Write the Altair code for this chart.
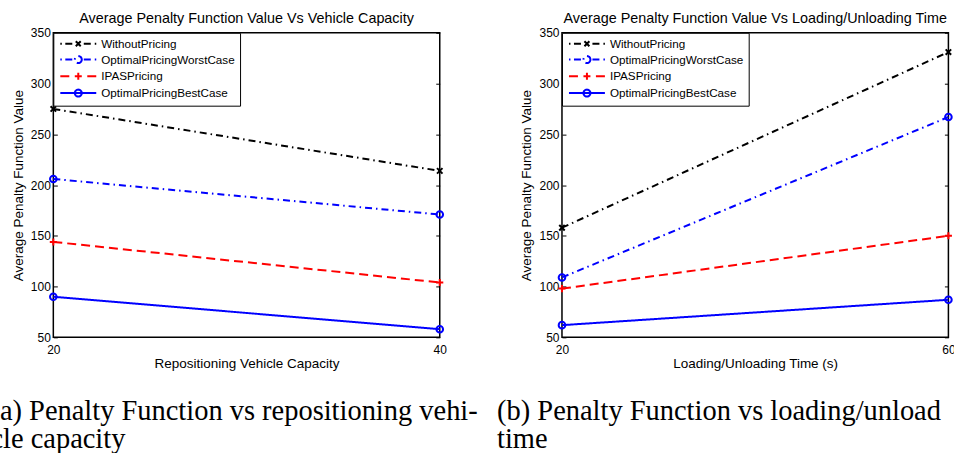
import math

import altair as alt
import pandas as pd

# ---------------- data ----------------
series_names = ["WithoutPricing", "OptimalPricingWorstCase", "IPASPricing", "OptimalPricingBestCase"]
series_colors = ["#000000", "#0000ff", "#ff0000", "#0000ff"]

# panel (a): repositioning vehicle capacity
capacity_x = [20, 40]
capacity_without = [275, 214]
capacity_worst = [206, 171]
capacity_ipas = [144, 104]
capacity_best = [90, 58]

# panel (b): loading/unloading time
loading_x = [20, 60]
loading_without = [158, 331]
loading_worst = [109, 267]
loading_ipas = [98, 150]
loading_best = [62, 87]

y_ticks = [50, 100, 150, 200, 250, 300, 350]

panel_titles = [
    "Average Penalty Function Value Vs Vehicle Capacity",
    "Average Penalty Function Value Vs Loading/Unloading Time",
]
x_titles = ["Repositioning Vehicle Capacity", "Loading/Unloading Time (s)"]
y_title = "Average Penalty Function Value"
captions = [
    "(a) Penalty Function vs repositioning vehi-\ncle capacity",
    "(b) Penalty Function vs loading/unloading\ntime",
]

SANS = "Liberation Sans"
SERIF = "Liberation Serif"

# ---------------- styles ----------------
DASH_DOT = [7, 4, 1.5, 4]
DASHED = [9, 5]
SOLID = [1, 0]
line_dashes = [DASH_DOT, DASH_DOT, DASHED, SOLID]

X_MARK = "M-1,-1L1,1M-1,1L1,-1"
PLUS_MARK = "M-1,0L1,0M0,-1L0,1"
marker_shapes = [X_MARK, "circle", PLUS_MARK, "circle"]
marker_sizes = [30, 44, 50, 44]


# legend symbols: line sample + marker as one path (1 unit = 5 px at size 100)
def seg(a, b):
    return f"M{a},0L{b},0"


def circ(r, n=24):
    pts = [(r * math.cos(2 * math.pi * k / n), r * math.sin(2 * math.pi * k / n)) for k in range(n)]
    return "M" + "L".join(f"{x:.3f},{y:.3f}" for x, y in pts) + "Z"


def x_glyph(h):
    return f"M{-h},{-h}L{h},{h}M{-h},{h}L{h},{-h}"


def plus_glyph(h):
    return f"M{-h},0L{h},0M0,{-h}L0,{h}"


dash_dot_legend = seg(-3.6, -3.3) + seg(-2.6, -1.1) + seg(1.1, 2.6) + seg(3.3, 3.6)
legend_paths = [
    dash_dot_legend + x_glyph(0.5),
    dash_dot_legend + circ(0.7),
    seg(-3.6, -1.8) + seg(1.8, 3.6) + plus_glyph(0.7),
    seg(-3.6, 3.6) + circ(0.7),
]


def long_table(xs, columns):
    rows = []
    for name, vals in zip(series_names, columns):
        for x, v in zip(xs, vals):
            rows.append({"x": x, "value": v, "series": name})
    return pd.DataFrame(rows)


def panel(xs, columns, title, x_title, caption, caption_dx, caption_limit):
    df = long_table(xs, columns)
    xscale = alt.Scale(domain=[xs[0], xs[-1]], nice=False, zero=False)
    yscale = alt.Scale(domain=[50, 350], nice=False, zero=False)
    color_scale = alt.Scale(domain=series_names, range=series_colors)

    x_axis = alt.Axis(
        orient="bottom", values=xs, ticks=False, domain=False, grid=False,
        labelFlush=False, labelPadding=7.5, labelFont=SANS, labelFontSize=12,
        labelColor="black", title=x_title, titleFont=SANS, titleFontSize=13.5,
        titleFontWeight="normal", titleColor="black", titlePadding=0.5,
    )
    y_left = alt.Axis(
        orient="left", values=y_ticks, offset=-4, tickSize=4, tickColor="black",
        tickWidth=1, domain=False, grid=False, labelFlush=False, labelPadding=3,
        labelFont=SANS, labelFontSize=12, labelColor="black", title=y_title,
        titleFont=SANS, titleFontSize=13.5, titleFontWeight="normal",
        titleColor="black", titlePadding=5,
    )
    y_right = alt.Axis(
        orient="right", values=y_ticks, offset=-4, tickSize=4, tickColor="black",
        tickWidth=1, domain=False, grid=False, labels=False, title=None,
    )

    legend = alt.Legend(
        title=None, orient="top-left", offset=0, padding=5,
        strokeColor="black", fillColor="white", cornerRadius=0,
        symbolSize=100, symbolStrokeWidth=2, symbolOpacity=1,
        symbolOffset=14, labelOffset=17, rowPadding=0.8,
        labelFont=SANS, labelFontSize=11.7, labelColor="black",
    )

    base = alt.Chart(df)
    x_enc = alt.X("x:Q", scale=xscale, axis=x_axis)

    legend_layer = base.mark_point(opacity=0, filled=False).encode(
        x=x_enc,
        y=alt.Y("value:Q", scale=yscale, axis=y_right),
        color=alt.Color("series:N", scale=color_scale, legend=legend),
        shape=alt.Shape(
            "series:N", scale=alt.Scale(domain=series_names, range=legend_paths),
            legend=legend,
        ),
    )

    lines = base.mark_line(strokeWidth=2).encode(
        x=x_enc,
        y=alt.Y("value:Q", scale=yscale, axis=y_left),
        color=alt.Color("series:N", scale=color_scale, legend=None),
        strokeDash=alt.StrokeDash(
            "series:N", scale=alt.Scale(domain=series_names, range=line_dashes),
            legend=None,
        ),
    )

    markers = []
    for name, color, shape, size in zip(series_names, series_colors, marker_shapes, marker_sizes):
        markers.append(
            base.transform_filter(alt.datum.series == name)
            .mark_point(shape=shape, size=size, color=color, filled=False,
                        strokeWidth=2, opacity=1)
            .encode(
                x=x_enc,
                y=alt.Y("value:Q", scale=yscale, axis=None),
            )
        )

    caption_layer = alt.Chart(pd.DataFrame({"caption": [caption]})).mark_text(
        align="left", baseline="alphabetic", font=SERIF, fontSize=28.5,
        color="black", lineBreak="\n", lineHeight=28, limit=caption_limit,
        ellipsis="\u200b",
    ).encode(
        text="caption:N",
        x=alt.value(caption_dx),
        y=alt.value(388),
    )

    return (
        alt.layer(legend_layer, lines, *markers, caption_layer)
        .resolve_axis(y="independent")
        .properties(
            width=387, height=305,
            title=alt.TitleParams(
                title, font=SANS, fontSize=14.4, fontWeight="normal",
                color="black", anchor="middle", offset=0,
            ),
        )
    )


left = panel(
    capacity_x,
    [capacity_without, capacity_worst, capacity_ipas, capacity_best],
    panel_titles[0], x_titles[0], captions[0], -63, 540,
)
right = panel(
    loading_x,
    [loading_without, loading_worst, loading_ipas, loading_best],
    panel_titles[1], x_titles[1], captions[1], -65, 447,
)

chart = (
    alt.hconcat(left, right, spacing=122.4, bounds="flush")
    .resolve_scale(color="independent", shape="independent", strokeDash="independent")
    .properties(padding={"left": -10.6, "top": 9.5, "right": -6, "bottom": 0})
    .configure_view(stroke="black", strokeWidth=1.5)
)

chart.save("out.html", embed_options={"renderer": "svg", "actions": False})
